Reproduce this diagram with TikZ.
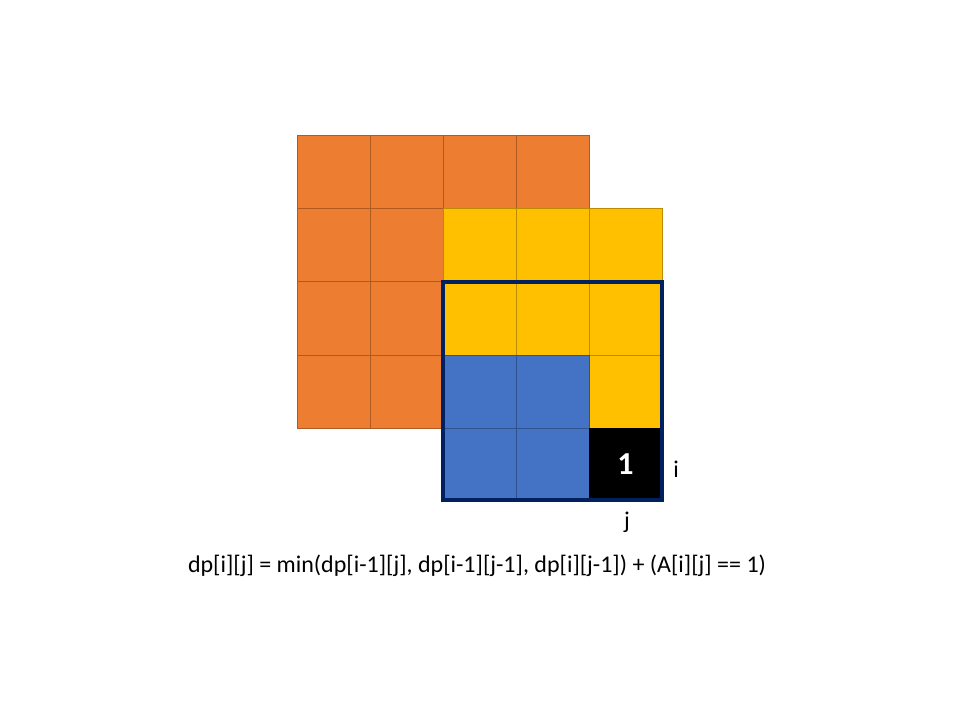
\documentclass[tikz,border=0pt]{standalone}
\usepackage{fontspec}
\setmainfont{Carlito}
\definecolor{orfill}{HTML}{ED7D31}
\definecolor{ordraw}{HTML}{AE5A21}
\definecolor{yefill}{HTML}{FFC000}
\definecolor{yedraw}{HTML}{BC8C00}
\definecolor{blfill}{HTML}{4472C4}
\definecolor{bldraw}{HTML}{2F528F}
\definecolor{navy}{HTML}{002060}
\begin{document}
\begin{tikzpicture}[x=0.75pt,y=-0.75pt,
  orcell/.style={fill=orfill,draw=ordraw,line width=0.75pt},
  yecell/.style={fill=yefill,draw=yedraw,line width=0.75pt},
  blcell/.style={fill=blfill,draw=bldraw,line width=0.75pt},
  bkcell/.style={fill=black,draw=black,line width=0.75pt},
  frame/.style={draw=navy,line width=3pt},
  lbl/.style={font=\fontsize{18}{21}\selectfont,inner sep=0pt}]
\useasboundingbox (0,0) rectangle (960,720);
% cell size 73
\foreach \c in {0,1,2,3} \path[orcell] (297+73*\c,136) rectangle ++(73,73);
\foreach \r in {1,2,3} \foreach \c in {0,1} \path[orcell] (297+73*\c,136+73*\r) rectangle ++(73,73);
\foreach \r in {1,2} \foreach \c in {2,3,4} \path[yecell] (297+73*\c,136+73*\r) rectangle ++(73,73);
\path[yecell] (589,355) rectangle ++(73,73);
\foreach \r in {3,4} \foreach \c in {2,3} \path[blcell] (297+73*\c,136+73*\r) rectangle ++(73,73);
\path[bkcell] (589,428) rectangle (662,500);
\node[font=\fontsize{24}{28}\selectfont\bfseries,text=white,inner sep=0pt,anchor=base] (one) at (625.5,474) {1};
\draw[frame] (443,282) rectangle (662,500);
\node[lbl,anchor=base] (ilbl) at (676,477) {i};
\node[lbl,anchor=base] (jlbl) at (627,528) {j};
\node[lbl,anchor=base] (formula) at (477,572) {dp[i][j] = min(dp[i-1][j], dp[i-1][j-1], dp[i][j-1]) + (A[i][j] == 1)};
\end{tikzpicture}
\end{document}
